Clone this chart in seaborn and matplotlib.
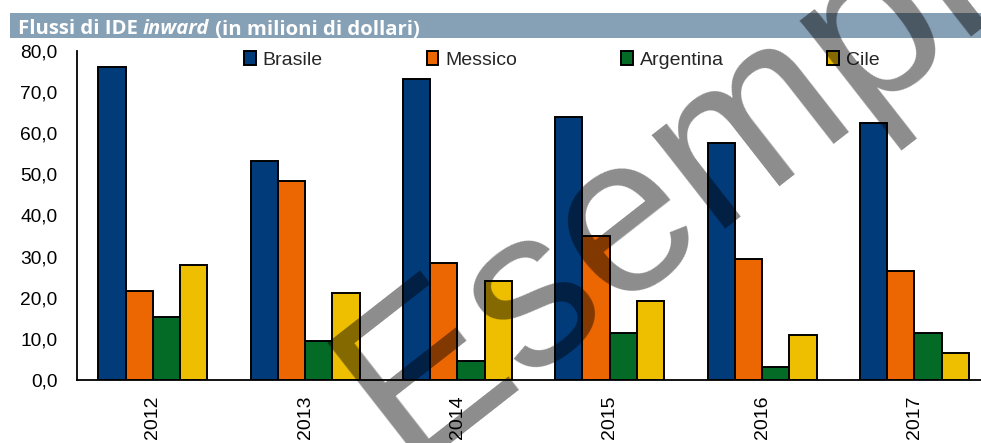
import numpy as np
import pandas as pd
import matplotlib
matplotlib.use("Agg")
import matplotlib.pyplot as plt
from matplotlib.patches import Rectangle
import seaborn as sns

# ---- data ----
years = ["2012", "2013", "2014", "2015", "2016", "2017"]
countries = ["Brasile", "Messico", "Argentina", "Cile"]
brasile = [76.2, 53.3, 73.2, 64.0, 57.7, 62.5]
messico = [21.7, 48.4, 28.5, 34.9, 29.4, 26.5]
argentina = [15.4, 9.5, 4.7, 11.5, 3.2, 11.5]
cile = [28.0, 21.2, 24.1, 19.3, 10.9, 6.6]
yticks = [0, 10, 20, 30, 40, 50, 60, 70, 80]
title_parts = ["Flussi di IDE ", "inward", " (in milioni di dollari)"]
watermark = "Esempio"

colors = ["#023B7A", "#EC6602", "#046B26", "#EEBE00"]

df = pd.DataFrame({"Anno": years, "Brasile": brasile, "Messico": messico,
                   "Argentina": argentina, "Cile": cile})
long = df.melt(id_vars="Anno", value_vars=countries, var_name="Paese", value_name="Valore")

sns.set_style("white")
plt.rcParams["font.family"] = ["Liberation Sans", "DejaVu Sans"]

W, H = 981, 443
fig = plt.figure(figsize=(W / 100, H / 100), dpi=100)
ax = fig.add_axes([76.7 / W, 1 - 380 / H, 913.8 / W, 329 / H])

sns.barplot(data=long, x="Anno", y="Valore", hue="Paese", hue_order=countries,
            palette=colors, width=0.716, saturation=1, edgecolor="black",
            linewidth=1.4, ax=ax)

ax.set_ylim(0, 80)
ax.set_xlim(-0.5, 5.5)
ax.set_xlabel("")
ax.set_ylabel("")
ax.set_yticks(yticks)
ax.set_yticklabels([f"{v:.1f}".replace(".", ",") for v in yticks], fontsize=13.8)
ax.set_xticks(range(len(years)))
ax.set_xticklabels(years, rotation=90, fontsize=14)
ax.set_xticks(np.arange(-0.5, len(years), 1.0), minor=True)
ax.tick_params(axis="x", which="major", length=0, pad=11)
ax.tick_params(axis="x", which="minor", length=6, width=1.3, direction="out", color="black")
ax.tick_params(axis="y", which="major", length=6, width=1.3, direction="out", pad=8, color="black")
ax.tick_params(labelcolor="black")
for s in ["top", "right"]:
    ax.spines[s].set_visible(False)
for s in ["left", "bottom"]:
    ax.spines[s].set_color("black")
    ax.spines[s].set_linewidth(1.3)
ax.grid(False)

handles, labels = ax.get_legend_handles_labels()
ax.legend(handles, labels, ncol=4, loc="center left",
          bbox_to_anchor=(244 / W, 1 - 60 / H), bbox_transform=fig.transFigure,
          frameon=False, fontsize=14, handlelength=0.6, handleheight=0.7,
          handletextpad=0.35, columnspacing=5.35, borderpad=0, borderaxespad=0)

# title bar
fig.add_artist(Rectangle((10 / W, 1 - 38 / H), 1 - 10 / W, 25 / H,
                         transform=fig.transFigure, facecolor="#86A0B6",
                         edgecolor="none", zorder=1))
renderer = fig.canvas.get_renderer()
x = 18
for i, part in enumerate(title_parts):
    t = fig.text(x / W, 1 - 34.5 / H, part, color="white", fontsize=14.6,
                 fontweight="bold", style="italic" if i == 1 else "normal",
                 family=["Open Sans", "DejaVu Sans"], ha="left", va="baseline", zorder=2)
    bb = t.get_window_extent(renderer)
    x += bb.width

# watermark
fig.text(405 / W, 1 - 465 / H, watermark, fontsize=162, rotation=38,
         rotation_mode="anchor", ha="left", va="baseline", color="black",
         alpha=0.45, family=["Liberation Sans", "DejaVu Sans"], zorder=10)

fig.savefig("out.png", dpi=100)
